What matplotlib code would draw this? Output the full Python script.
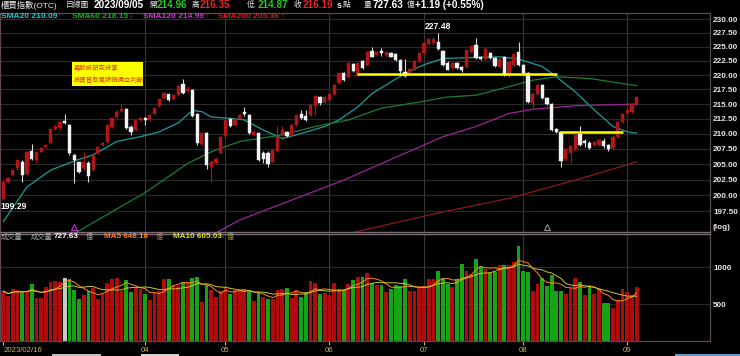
import numpy as np
import pandas as pd
import matplotlib
matplotlib.use("Agg")
import matplotlib.pyplot as plt
from matplotlib.patches import Rectangle
from matplotlib.ticker import NullLocator, NullFormatter

plt.rcParams['font.family'] = ['Liberation Sans', 'Noto Sans CJK TC', 'DejaVu Sans']

# ---------------- data ----------------
opens = [
    199.45, 202.05, 203.17, 204.30, 205.26, 203.46, 207.19, 205.60, 207.02, 207.76,
    208.50, 210.78, 210.89, 212.19, 211.46, 206.46, 205.26, 204.30, 205.15, 204.02,
    206.74, 208.15, 208.66, 211.18, 212.76, 213.88, 214.11, 211.18, 210.61, 212.30,
    212.64, 212.30, 213.32, 214.67, 215.97, 216.65, 215.86, 216.54, 218.42, 217.21,
    217.40, 213.26, 208.32, 210.05, 204.47, 205.15, 206.74, 209.60, 212.42, 211.46,
    212.58, 213.70, 213.15, 209.80, 210.16, 206.85, 206.85, 205.38, 207.18, 209.80,
    210.30, 209.76, 211.45, 213.30, 213.00, 213.15, 214.60, 216.25, 215.40, 215.70,
    216.80, 218.58, 220.28, 219.58, 221.85, 220.08, 222.50, 221.75, 224.20, 223.50,
    224.20, 223.60, 223.90, 223.70, 222.65, 220.60, 220.30, 220.95, 222.50, 223.90,
    225.50, 225.60, 225.90, 224.20, 222.15, 221.20, 222.05, 221.45, 221.45, 224.10,
    225.25, 223.15, 222.85, 223.80, 223.05, 221.45, 223.15, 219.85, 221.75, 224.10,
    221.75, 220.30, 215.20, 216.80, 218.30, 216.00, 215.00, 210.70, 210.20, 205.75,
    206.80, 207.40, 210.00, 208.85, 208.50, 208.10, 208.15, 208.75, 208.15, 207.60,
    209.50, 212.00, 213.40, 213.70, 214.96,
]
highs = [
    202.30, 202.90, 204.20, 205.90, 205.60, 207.20, 208.26, 207.20, 207.80, 208.35,
    210.90, 211.40, 212.20, 213.26, 211.60, 206.70, 205.40, 207.02, 205.54, 206.60,
    208.00, 208.60, 211.60, 212.70, 213.90, 215.01, 214.30, 211.40, 212.40, 212.80,
    212.80, 213.30, 214.50, 215.90, 216.90, 216.80, 216.60, 218.30, 219.27, 218.10,
    217.60, 213.40, 210.20, 210.20, 205.60, 206.10, 209.60, 212.40, 212.60, 212.60,
    213.30, 214.56, 213.30, 210.60, 210.30, 207.10, 207.10, 207.50, 211.20, 211.30,
    210.50, 211.60, 213.30, 214.00, 213.90, 215.00, 216.50, 216.40, 216.30, 216.90,
    218.40, 220.40, 220.50, 222.30, 222.10, 222.30, 222.70, 224.30, 224.95, 224.30,
    224.85, 224.30, 224.10, 223.90, 222.80, 222.75, 221.20, 222.70, 224.10, 225.90,
    226.60, 226.70, 227.48, 224.40, 222.40, 222.30, 222.20, 221.60, 224.60, 225.20,
    226.60, 223.40, 224.70, 224.00, 223.20, 223.00, 223.30, 222.50, 223.90, 225.90,
    222.00, 220.50, 217.00, 218.40, 218.50, 216.20, 215.20, 210.90, 210.40, 207.60,
    208.10, 210.00, 211.20, 209.10, 208.80, 208.80, 209.10, 209.30, 208.30, 209.70,
    212.20, 213.50, 214.20, 215.20, 216.35,
]
lows = [
    199.29, 201.90, 203.00, 204.10, 202.16, 203.30, 205.70, 205.15, 206.90, 207.60,
    208.30, 210.60, 210.70, 211.70, 206.50, 201.88, 203.60, 204.10, 202.16, 203.90,
    206.60, 208.00, 208.50, 211.00, 212.60, 213.70, 210.70, 209.76, 210.40, 212.10,
    211.46, 212.10, 213.20, 214.50, 215.80, 215.50, 215.70, 216.40, 216.80, 217.10,
    212.80, 208.20, 208.10, 204.13, 202.16, 205.00, 206.60, 209.40, 211.10, 211.30,
    212.40, 213.00, 209.90, 209.60, 205.50, 205.20, 204.58, 205.20, 207.00, 209.60,
    209.40, 209.60, 211.30, 212.40, 212.10, 213.00, 213.10, 214.90, 215.20, 215.50,
    216.60, 218.40, 219.00, 219.40, 220.60, 219.90, 221.00, 221.60, 223.10, 223.30,
    223.30, 223.40, 223.10, 222.50, 219.85, 219.70, 220.10, 220.80, 222.30, 223.70,
    225.30, 225.40, 224.50, 221.60, 220.80, 221.00, 221.00, 220.60, 221.30, 223.90,
    222.90, 222.70, 222.70, 222.90, 221.40, 221.30, 219.80, 219.70, 221.60, 221.60,
    220.20, 215.20, 214.30, 216.60, 215.80, 214.80, 210.40, 210.10, 204.55, 205.50,
    205.25, 207.20, 208.00, 207.80, 207.40, 207.90, 208.00, 207.70, 207.20, 207.40,
    209.30, 211.80, 213.20, 213.50, 214.87,
]
closes = [
    202.16, 202.70, 204.00, 205.70, 203.17, 207.02, 205.90, 207.02, 207.59, 208.15,
    210.78, 211.29, 211.97, 211.85, 206.74, 205.60, 203.74, 205.26, 203.00, 206.46,
    207.87, 208.40, 211.46, 212.59, 213.71, 214.17, 210.89, 210.33, 212.30, 212.70,
    212.30, 213.15, 214.39, 215.80, 216.82, 215.69, 216.48, 218.14, 216.93, 217.58,
    212.98, 208.43, 210.05, 204.87, 205.26, 205.90, 209.50, 212.30, 211.29, 212.42,
    213.15, 213.30, 210.04, 210.30, 205.72, 205.90, 205.03, 207.28, 209.50, 210.60,
    209.60, 211.45, 213.15, 212.60, 212.30, 214.84, 216.36, 215.10, 216.14, 216.80,
    218.28, 220.28, 219.18, 222.15, 220.75, 222.15, 221.15, 224.10, 223.25, 224.10,
    223.80, 224.10, 223.25, 222.65, 220.65, 219.85, 221.00, 222.50, 223.90, 225.70,
    226.35, 226.45, 224.65, 221.75, 220.95, 222.05, 221.20, 220.85, 224.40, 225.05,
    223.05, 222.85, 224.55, 223.05, 221.55, 222.85, 220.00, 222.35, 223.70, 221.75,
    220.40, 215.40, 216.80, 218.20, 216.00, 215.00, 210.60, 210.30, 205.55, 207.38,
    207.90, 209.80, 208.15, 208.40, 207.60, 208.65, 208.95, 207.90, 207.40, 209.50,
    212.00, 213.30, 214.00, 215.00, 216.19,
]
volumes = [
    676, 608, 698, 685, 676, 676, 766, 586, 577, 735,
    802, 811, 798, 856, 843, 685, 563, 622, 676, 721,
    563, 631, 780, 834, 847, 676, 820, 667, 735, 708,
    631, 550, 653, 676, 834, 834, 753, 744, 802, 802,
    856, 865, 527, 753, 685, 595, 676, 735, 640, 689,
    698, 708, 676, 541, 667, 595, 572, 563, 689, 698,
    721, 586, 685, 595, 667, 811, 780, 631, 644, 622,
    780, 698, 685, 766, 820, 865, 865, 924, 780, 753,
    753, 667, 698, 753, 744, 834, 676, 676, 721, 744,
    834, 834, 946, 856, 766, 735, 834, 1050, 946, 910,
    1113, 1014, 978, 924, 933, 1027, 1036, 1036, 1072, 1293,
    946, 933, 676, 766, 856, 744, 892, 676, 676, 640,
    721, 856, 802, 617, 744, 640, 700, 509, 509, 442,
    560, 700, 660, 617, 727.63,
]

# moving averages of price, read at sparse points along the drawn lines
sma20_idx = [0, 5, 10, 15, 19, 24, 29, 33, 37, 40, 42, 44, 49, 51, 55, 59, 62, 68,
             71, 75, 78, 82, 85, 89, 93, 100, 105, 109, 114, 117, 121, 125, 129, 132, 134]
sma20_val = [195.85, 201.3, 204.0, 205.5, 206.5, 208.7, 209.5, 210.3, 211.8, 213.9,
             213.7, 212.8, 212.5, 212.3, 210.6, 209.2, 209.8, 211.2, 212.3, 214.5,
             216.8, 218.8, 220.3, 221.8, 222.9, 223.1, 223.2, 222.8, 221.5, 219.7,
             217.1, 214.0, 211.2, 210.3, 210.09]
sma60_idx = [15, 30, 39, 44, 50, 59, 66, 73, 80, 87, 94, 100, 107, 112, 117, 124, 134]
sma60_val = [194.0, 200.4, 205.1, 207.0, 208.7, 209.8, 211.2, 212.3, 214.3, 215.2,
             216.2, 216.5, 218.0, 219.1, 219.7, 219.4, 218.15]
sma120_idx = [45, 50, 72, 93, 100, 107, 112, 121, 134]
sma120_val = [194.1, 196.1, 202.4, 209.5, 211.2, 213.4, 214.1, 214.7, 214.99]
sma200_idx = [73, 92, 107, 121, 134]
sma200_val = [194.0, 197.2, 199.5, 202.4, 205.36]

# hand-drawn yellow support lines: level, start bar, end bar
yellow_levels = [220.1, 210.3]
yellow_start = [74.8, 117.8]
yellow_end = [117.1, 131.1]

price_ticks = [197.5, 200.0, 202.5, 205.0, 207.5, 210.0, 212.5, 215.0,
               217.5, 220.0, 222.5, 225.0, 227.5, 230.0]
vol_ticks = [500, 1000]
month_bars = [30, 47, 69, 89, 110, 132]
month_labels = ['04', '05', '06', '07', '08', '09']
first_label = '2023/02/16'
event_bars = [15, 115]
highlight_bar = 13

# ---------------- figure ----------------
W, H = 740, 356
fig = plt.figure(figsize=(W / 100, H / 100), dpi=100, facecolor='black')


def fx(x):
    return x / W


def fy(y):
    return 1 - y / H


ax = fig.add_axes([0, fy(232), fx(710), (232 - 13) / H], facecolor='black')
axv = fig.add_axes([0, fy(341), fx(710), (341 - 234) / H], facecolor='black', sharex=ax)

x = np.arange(len(closes))
o = np.array(opens)
hi = np.array(highs)
lo = np.array(lows)
c = np.array(closes)

RED = '#b01616'
WHITE = '#f2f2f2'
up = c >= o
body_col = np.where(up, RED, WHITE)
wick_col = np.where(up, RED, '#d8d8d8')

ax.vlines(x, lo, hi, colors=wick_col, lw=0.8, zorder=3)
ax.bar(x, np.maximum(np.abs(c - o), 0.12), bottom=np.minimum(o, c), width=0.68,
       color=body_col, edgecolor=body_col, lw=0.3, zorder=4)

ax.plot(sma20_idx, sma20_val, color='#1d9c9c', lw=0.9, zorder=2)
ax.plot(sma60_idx, sma60_val, color='#1c7d32', lw=0.9, zorder=2)
ax.plot(sma120_idx, sma120_val, color='#9a249a', lw=0.9, zorder=2)
ax.plot(sma200_idx, sma200_val, color='#8a1a1a', lw=0.9, zorder=2)

for lv, s, e in zip(yellow_levels, yellow_start, yellow_end):
    ax.hlines(lv, s, e, color='#ffff00', lw=1.8, zorder=5)

ax.plot([event_bars[0]], [195.0], marker='^', ms=4, mfc='none', mec='#c030c8', mew=0.8, ls='none')
ax.plot([event_bars[1]], [195.0], marker='^', ms=4, mfc='none', mec='#909090', mew=0.8, ls='none')

i_hi = int(np.argmax(hi))
ax.annotate(f'{hi[i_hi]:.2f}', (i_hi, hi[i_hi]), xytext=(0, 1.5), textcoords='offset points',
            ha='center', va='bottom', color='white', fontsize=6.2, fontweight='bold', zorder=6)
i_lo = int(np.argmin(lo))
ax.annotate(f'{lo[i_lo]:.2f}', (i_lo, lo[i_lo]), xytext=(-2, -1.5), textcoords='offset points',
            ha='left', va='top', color='white', fontsize=6.2, fontweight='bold', zorder=6)

ax.set_yscale('log')
ax.set_ylim(194.24, 231.10)
ax.set_xlim(-0.70, 149.5)
ax.yaxis.set_minor_locator(NullLocator())
ax.yaxis.set_minor_formatter(NullFormatter())
ax.set_yticks(price_ticks, labels=[f'{v:.2f}' for v in price_ticks])
ax.yaxis.tick_right()
ax.tick_params(axis='y', length=0, pad=2.2, labelsize=5.9, labelcolor='#e6e6e6')
for lbl in ax.get_yticklabels():
    lbl.set_fontweight('bold')
ax.tick_params(axis='x', length=0, labelbottom=False)
ax.grid(axis='y', color='#2a2a2a', lw=0.8)
for mb in month_bars:
    ax.axvline(mb, color='#383838', lw=0.8, zorder=1)
    axv.axvline(mb, color='#383838', lw=0.8, zorder=1)
ax.text(1.004, 0.02, '(log)', transform=ax.transAxes, color='#e6e6e6', fontsize=5.9,
        fontweight='bold', ha='left', va='center')

# yellow note box
ax.add_patch(Rectangle((72 / 710, 1 - 73 / 219), 71 / 710, 24 / 219, transform=ax.transAxes,
                       facecolor='#ffff00', edgecolor='none', zorder=6))
ax.text(74 / 710, 1 - 55 / 219, '嘉發投研究分享', transform=ax.transAxes, color='#d83a00',
        fontsize=4.6, va='center', ha='left', zorder=7)
ax.text(74 / 710, 1 - 67 / 219, '投資皆有風險請獨立判斷', transform=ax.transAxes, color='#d83a00',
        fontsize=4.6, va='center', ha='left', zorder=7)

# volume panel
vol_up = np.r_[True, c[1:] >= c[:-1]]
vol_col = np.where(vol_up, '#b00c0c', '#17a317').astype(object)
vol_col[highlight_bar] = '#c8c8c8'
axv.bar(x, volumes, width=0.8, color=list(vol_col), zorder=2)
vs = pd.Series(volumes)
axv.plot(x, vs.rolling(5, min_periods=1).mean(), color='#ff8a1a', lw=0.7, zorder=3)
axv.plot(x, vs.rolling(10, min_periods=1).mean(), color='#c8c828', lw=0.7, zorder=3)
axv.set_ylim(0, 1450)
axv.set_yticks(vol_ticks, labels=[str(v) for v in vol_ticks])
axv.yaxis.tick_right()
axv.tick_params(axis='y', length=0, pad=2.2, labelsize=5.9, labelcolor='#e6e6e6')
for lbl in axv.get_yticklabels():
    lbl.set_fontweight('bold')
axv.grid(axis='y', color='#2a2a2a', lw=0.8)
axv.set_axisbelow(True)

axv.set_xticks([0] + month_bars, labels=[first_label] + month_labels)
axv.tick_params(axis='x', length=3, width=0.8, color='#c8b45a', labelcolor='#c8b45a',
                labelsize=5.6, pad=1.5, direction='out')
axv.get_xticklabels()[0].set_horizontalalignment('left')

for a in (ax, axv):
    for sp in a.spines.values():
        sp.set_color('#5e4654')
        sp.set_linewidth(0.9)
ax.spines['bottom'].set_color('#7a6f76')
ax.spines['bottom'].set_linewidth(1.0)
axv.spines['top'].set_color('#7a6f76')
axv.spines['top'].set_linewidth(1.0)

# ---------------- header texts ----------------
def put(xp, yp, s, color, size, weight='normal'):
    fig.text(fx(xp), fy(yp), s, color=color, fontsize=size, fontweight=weight,
             ha='left', va='center')


GRN = '#22cc22'
RD = '#ee2222'
WH = '#eaeaea'
put(1, 5, '櫃買指數(OTC)', WH, 6.0)
put(66, 5, '日線圖', WH, 5.6)
put(94, 5, '2023/09/05', 'white', 7.2, 'bold')
put(149, 5, '開', WH, 5.6)
put(157, 5, '214.96', GRN, 7.2, 'bold')
put(192, 5, '高', WH, 5.6)
put(200, 5, '216.35', RD, 7.2, 'bold')
put(247, 5, '低', WH, 5.6)
put(258, 5, '214.87', GRN, 7.2, 'bold')
put(294, 5, '收', WH, 5.6)
put(303, 5, '216.19', RD, 7.2, 'bold')
put(337, 5, 's', WH, 6.5, 'bold')
put(343, 5, '點', WH, 5.6)
put(364, 5, '量', WH, 5.6)
put(373, 5, '727.63', 'white', 7.2, 'bold')
put(407, 5, '億', WH, 5.6)
put(415, 5, '+1.19 (+0.55%)', 'white', 7.2, 'bold')

put(1, 17, 'SMA20 210.09', '#22c8d0', 6.0, 'bold')
put(57, 17, '↑', RD, 6.0, 'bold')
put(72, 17, 'SMA60 218.15', '#18b018', 6.0, 'bold')
put(129, 17, '↓', '#18b018', 6.0, 'bold')
put(143, 17, 'SMA120 214.99', '#c838d0', 6.0, 'bold')
put(205, 17, '↑', RD, 6.0, 'bold')
put(218, 17, 'SMA200 205.36', '#d81c1c', 6.0, 'bold')
put(281, 17, '↑', RD, 6.0, 'bold')

put(1, 237, '成交量', '#a8a8a8', 5.2)
put(31, 237, '成交量', '#a8a8a8', 5.2)
put(54, 237, '727.63', 'white', 5.9, 'bold')
put(81, 237, '↑', RD, 5.9, 'bold')
put(86, 237, '億', '#a8a8a8', 5.2)
put(104, 237, 'MA5 648.18', '#ff7f1e', 5.9, 'bold')
put(150, 237, '↑', RD, 5.9, 'bold')
put(156, 237, '億', '#c07850', 5.2)
put(173, 237, 'MA10 605.03', '#e0e020', 5.9, 'bold')
put(221, 237, '↓', '#1aa81a', 5.9, 'bold')
put(227, 237, '億', '#a0a040', 5.2)

# scrollbar strip at the very bottom
fig.patches.append(Rectangle((fx(52), 0), fx(49), 2 / H, transform=fig.transFigure,
                             facecolor='#bdbdbd', edgecolor='none'))
fig.patches.append(Rectangle((fx(141), 0), fx(38), 2 / H, transform=fig.transFigure,
                             facecolor='#d0d0d0', edgecolor='none'))
fig.patches.append(Rectangle((fx(675), 0), fx(65), 2 / H, transform=fig.transFigure,
                             facecolor='#5a9ccc', edgecolor='none'))

fig.savefig('out.png', dpi=100, facecolor='black')
plt.close(fig)
